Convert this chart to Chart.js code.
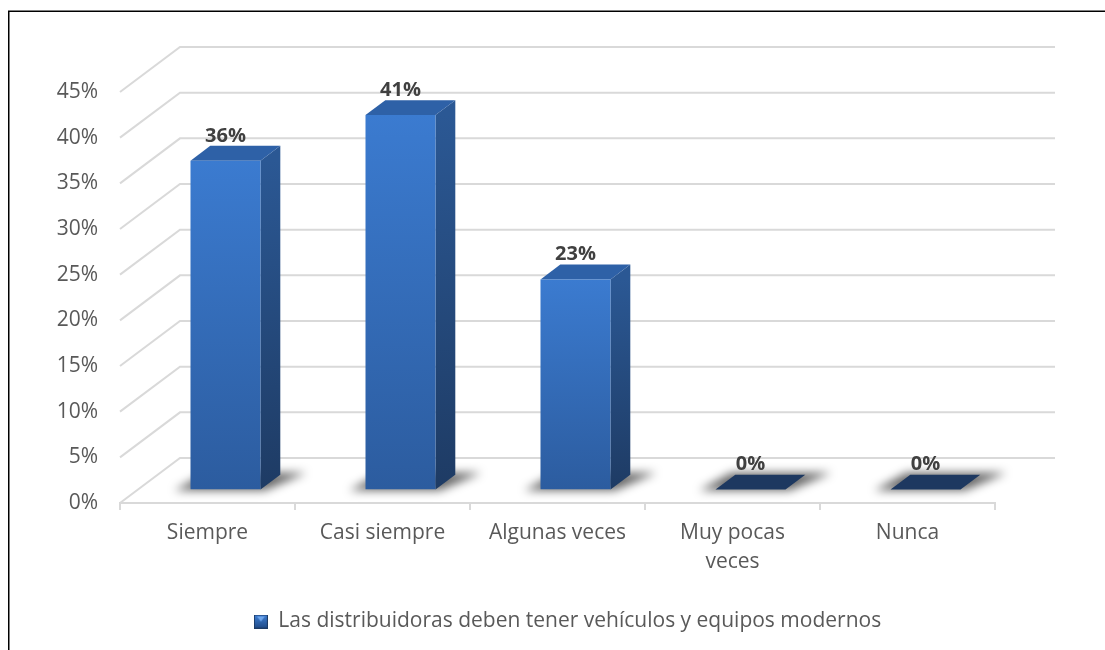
<!DOCTYPE html>
<html>
<head>
<meta charset="utf-8">
<script src="https://cdn.jsdelivr.net/npm/chart.js@4/dist/chart.umd.min.js"></script>
<style>
  html, body { margin: 0; padding: 0; background: #fff; }
  #wrap { width: 1105px; height: 650px; position: relative; }
</style>
</head>
<body>
<div id="wrap"><canvas id="myChart" width="1105" height="650"></canvas></div>
<script>
const categories = ['Siempre', 'Casi siempre', 'Algunas veces', ['Muy pocas', 'veces'], 'Nunca'];
const percentages = [36, 41, 23, 0, 0];
const seriesName = 'Las distribuidoras deben tener vehículos y equipos modernos';
const yMax = 45;
const yStep = 5;

// 3D look: the back wall is shifted right/up from the front axis, bars sit part way in
const WALL = { dx: 60, dy: -45 };
const BAR_FRONT = 0.3;
const BAR_BACK = 0.63;
const GRID_COLOR = '#d9d9d9';
const FONT = '"Open Sans", "Noto Sans", sans-serif';

function barBox(bar) {
    const p = bar.getProps(['x', 'y', 'base', 'width'], true);
    const xL = p.x - p.width / 2 + WALL.dx * BAR_FRONT;
    const xR = xL + p.width;
    const yT = p.y + WALL.dy * BAR_FRONT;
    const yB = p.base + WALL.dy * BAR_FRONT;
    const ddx = WALL.dx * (BAR_BACK - BAR_FRONT);
    const ddy = WALL.dy * (BAR_BACK - BAR_FRONT);
    return { xL, xR, yT, yB, ddx, ddy, cx: (xL + xR) / 2 };
}

function poly(ctx, pts) {
    ctx.beginPath();
    ctx.moveTo(pts[0][0], pts[0][1]);
    for (let i = 1; i < pts.length; i++) ctx.lineTo(pts[i][0], pts[i][1]);
    ctx.closePath();
}

const frame3d = {
    id: 'frame3d',
    beforeDraw(chart) {
        const ctx = chart.ctx;
        ctx.save();
        ctx.fillStyle = '#fff';
        ctx.fillRect(0, 0, chart.width, chart.height);
        ctx.strokeStyle = '#000';
        ctx.lineWidth = 1.5;
        ctx.strokeRect(8.75, 11.25, 1400, 1000);
        ctx.restore();
    },
    beforeDatasetsDraw(chart) {
        const ctx = chart.ctx;
        const { left, right } = chart.chartArea;
        const y = chart.scales.y;

        // back wall gridlines and the slanted side lines
        ctx.save();
        ctx.strokeStyle = GRID_COLOR;
        ctx.lineWidth = 2;
        y.ticks.forEach(t => {
            const py = y.getPixelForValue(t.value);
            ctx.beginPath();
            ctx.moveTo(left, py);
            ctx.lineTo(left + WALL.dx, py + WALL.dy);
            ctx.lineTo(right + WALL.dx, py + WALL.dy);
            ctx.stroke();
        });
        ctx.restore();

        const bars = chart.getDatasetMeta(0).data;
        const boxes = bars.map(barBox);

        // soft floor shadows
        ctx.save();
        ctx.filter = 'blur(5px)';
        ctx.fillStyle = 'rgba(0,0,0,0.6)';
        boxes.forEach(b => {
            poly(ctx, [
                [b.xL - 16, b.yB + 1],
                [b.xR + 4, b.yB + 1],
                [b.xR + b.ddx + 26, b.yB + b.ddy - 2],
                [b.xL + b.ddx - 4, b.yB + b.ddy - 2]
            ]);
            ctx.fill();
        });
        ctx.restore();

        ctx.save();
        boxes.forEach((b, i) => {
            const flat = percentages[i] === 0;
            if (!flat) {
                const g = ctx.createLinearGradient(0, b.yT, 0, b.yB);
                g.addColorStop(0, '#2b5894');
                g.addColorStop(1, '#1e3b64');
                ctx.fillStyle = g;
                poly(ctx, [
                    [b.xR, b.yT],
                    [b.xR + b.ddx, b.yT + b.ddy],
                    [b.xR + b.ddx, b.yB + b.ddy],
                    [b.xR, b.yB]
                ]);
                ctx.fill();
            }
            ctx.fillStyle = flat ? '#1d3860' : '#2e61a7';
            poly(ctx, [
                [b.xL, b.yT],
                [b.xR, b.yT],
                [b.xR + b.ddx, b.yT + b.ddy],
                [b.xL + b.ddx, b.yT + b.ddy]
            ]);
            ctx.fill();
        });
        ctx.restore();

        // front faces are drawn by Chart.js, pushed into the depth
        ctx.save();
        ctx.translate(WALL.dx * BAR_FRONT, WALL.dy * BAR_FRONT);
    },
    afterDatasetsDraw(chart) {
        const ctx = chart.ctx;
        ctx.restore();

        const bars = chart.getDatasetMeta(0).data;
        ctx.save();
        ctx.font = 'bold 20px ' + FONT;
        ctx.fillStyle = '#404040';
        ctx.textAlign = 'center';
        ctx.textBaseline = 'middle';
        bars.forEach((bar, i) => {
            const b = barBox(bar);
            ctx.fillText(percentages[i] + '%', b.cx, b.yT + b.ddy - 10);
        });
        ctx.restore();
    }
};

function frontFill(c) {
    const chart = c.chart;
    if (!chart.chartArea) return '#3572c0';
    const y = chart.scales.y;
    const top = y.getPixelForValue(c.raw);
    const bottom = y.getPixelForValue(0);
    if (bottom - top < 1) return '#1d3860';
    const g = chart.ctx.createLinearGradient(0, top, 0, bottom);
    g.addColorStop(0, '#3b7bd0');
    g.addColorStop(1, '#2c5c9f');
    return g;
}

function legendMarker() {
    const c = document.createElement('canvas');
    c.width = 14;
    c.height = 14;
    const x = c.getContext('2d');
    const g = x.createLinearGradient(0, 0, 0, 14);
    g.addColorStop(0, '#3f80d6');
    g.addColorStop(1, '#1f4a86');
    x.fillStyle = g;
    x.fillRect(0, 0, 14, 14);
    x.fillStyle = '#6fa6ec';
    x.beginPath();
    x.moveTo(3, 2);
    x.lineTo(11, 2);
    x.lineTo(7, 7);
    x.closePath();
    x.fill();
    x.strokeStyle = '#1c3b66';
    x.lineWidth = 1;
    x.strokeRect(0.5, 0.5, 13, 13);
    return c;
}

const ctx = document.getElementById('myChart').getContext('2d');
const myChart = new Chart(ctx, {
    type: 'bar',
    data: {
        labels: categories,
        datasets: [{
            label: seriesName,
            data: percentages,
            backgroundColor: frontFill,
            borderWidth: 0,
            categoryPercentage: 1,
            barPercentage: 0.4
        }]
    },
    options: {
        responsive: false,
        animation: false,
        layout: { padding: { left: 30, right: 0, top: 92, bottom: 8 } },
        scales: {
            x: {
                grid: {
                    offset: true,
                    drawOnChartArea: false,
                    tickLength: 7,
                    color: GRID_COLOR,
                    lineWidth: 2
                },
                border: { color: GRID_COLOR, width: 2 },
                ticks: {
                    color: '#595959',
                    font: { family: FONT, size: 21, lineHeight: 1.35 },
                    padding: 9,
                    maxRotation: 0,
                    autoSkip: false
                },
                afterFit(scale) { scale.height = 98; }
            },
            y: {
                min: 0,
                max: yMax,
                grid: { display: false, drawTicks: false },
                border: { display: false },
                ticks: {
                    stepSize: yStep,
                    color: '#595959',
                    font: { family: FONT, size: 21 },
                    padding: 22,
                    callback: v => v + '%'
                },
                afterFit(scale) { scale.width = 90; }
            },
            // empty right-hand strip that holds the depth of the back wall
            depth: {
                type: 'linear',
                position: 'right',
                min: 0,
                max: yMax,
                grid: { display: false, drawTicks: false },
                border: { display: false },
                ticks: { display: false },
                afterFit(scale) { scale.width = 110; }
            }
        },
        plugins: {
            tooltip: { enabled: false },
            legend: {
                position: 'bottom',
                labels: {
                    usePointStyle: true,
                    pointStyle: legendMarker(),
                    boxHeight: 14,
                    pointStyleWidth: 14,
                    color: '#595959',
                    font: { family: FONT, size: 21 },
                    padding: 10
                }
            }
        }
    },
    plugins: [frame3d]
});
</script>
</body>
</html>
